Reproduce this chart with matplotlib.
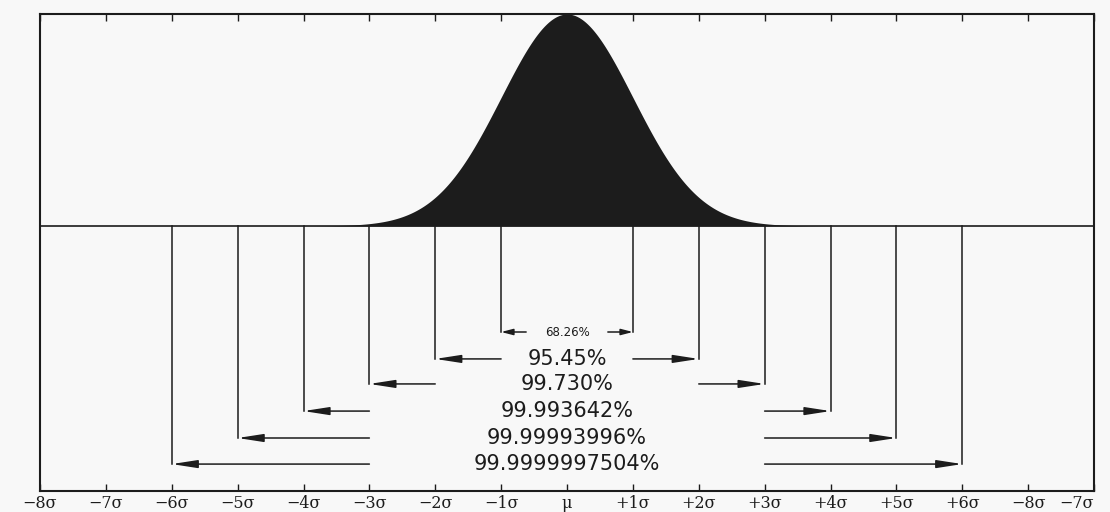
import numpy as np
import matplotlib
matplotlib.use("Agg")
import matplotlib.pyplot as plt

# ---- data ----
tick_pos = list(range(-8, 9))
tick_labels = ["−8σ", "−7σ", "−6σ", "−5σ", "−4σ", "−3σ", "−2σ", "−1σ", "μ",
               "+1σ", "+2σ", "+3σ", "+4σ", "+5σ", "+6σ", "−8σ", "−7σ"]
sigma_levels = [1, 2, 3, 4, 5, 6]
percent_labels = ["68.26%", "95.45%", "99.730%", "99.993642%",
                  "99.99993996%", "99.9999997504%"]
row_y = [-0.5, -0.627, -0.745, -0.873, -1.0, -1.123]
arrow_start = [0.62, 1, 2, 3, 3, 3]

bg = "#f8f8f8"
ink = "#1c1c1c"

fig = plt.figure(figsize=(11.1, 5.12), dpi=100, facecolor=bg)
ax = fig.add_axes([40/1110, 1-491/512, (1094-40)/1110, (491-14)/512])
ax.set_facecolor(bg)
ax.set_xlim(-8, 8)
ax.set_ylim(-1.25, 1.0)

x = np.linspace(-8, 8, 2001)
y = np.exp(-x**2 / 2)
ax.fill_between(x, 0, y, color=ink, linewidth=0)
ax.axhline(0, color=ink, lw=1.2)

for i, (s, lab, ry, st) in enumerate(zip(sigma_levels, percent_labels, row_y, arrow_start)):
    small = i == 0
    for sign in (-1, 1):
        ax.plot([sign*s, sign*s], [0, ry], color=ink, lw=1.1)
        ax.annotate("", xy=(sign*s, ry), xytext=(sign*st, ry),
                    arrowprops=dict(arrowstyle="-|>,head_length=%s,head_width=%s" %
                                    ((0.5, 0.13) if small else (1.1, 0.17)),
                                    color=ink, lw=1.1, shrinkA=0, shrinkB=0,
                                    mutation_scale=14))
    ax.text(0, ry, lab, ha="center", va="center", color=ink,
            fontsize=8.5 if small else 15, family="DejaVu Sans")

ax.set_xticks(tick_pos)
ax.set_xticklabels(tick_labels, family="DejaVu Serif", fontsize=11.5, color=ink)
ax.set_yticks([])
ax.tick_params(axis="x", direction="in", length=5, width=1, top=True, bottom=True,
               pad=3, color=ink)
labels = ax.get_xticklabels()
labels[-1].set_horizontalalignment("right")
for sp in ax.spines.values():
    sp.set_linewidth(1.5)
    sp.set_color(ink)

fig.savefig("out.png", dpi=100, facecolor=bg)
